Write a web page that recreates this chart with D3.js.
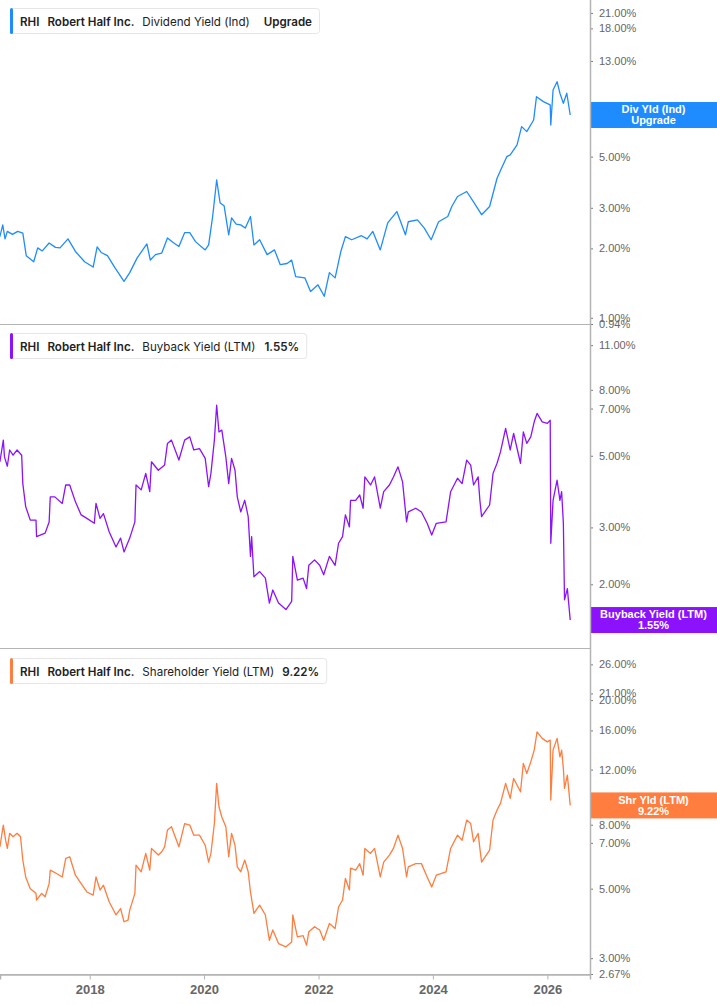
<!DOCTYPE html>
<html><head><meta charset="utf-8">
<script src="https://cdn.jsdelivr.net/npm/d3@7"></script>
<style>
html,body{margin:0;padding:0;background:#fff;}
svg{display:block;}
</style></head>
<body>
<svg id="chart" width="717" height="1005"></svg>
<script>
// ---------- DATA (decimal years, values in %) ----------
const divDates = [2016.43,2016.48,2016.52,2016.56,2016.65,2016.74,2016.83,2016.89,2017.02,2017.09,2017.17,2017.29,2017.40,2017.48,2017.62,2017.75,2017.91,2018.06,2018.13,2018.20,2018.31,2018.44,2018.60,2018.70,2018.83,2019.00,2019.06,2019.15,2019.26,2019.36,2019.46,2019.56,2019.66,2019.75,2019.85,2020.02,2020.08,2020.15,2020.22,2020.28,2020.35,2020.43,2020.48,2020.56,2020.64,2020.72,2020.81,2020.87,2020.97,2021.10,2021.23,2021.33,2021.45,2021.53,2021.60,2021.76,2021.86,2021.99,2022.10,2022.19,2022.29,2022.39,2022.47,2022.58,2022.75,2022.85,2022.95,2023.08,2023.21,2023.37,2023.52,2023.57,2023.73,2023.85,2023.97,2024.10,2024.26,2024.33,2024.43,2024.59,2024.72,2024.85,2024.99,2025.12,2025.20,2025.29,2025.35,2025.47,2025.55,2025.64,2025.76,2025.81,2025.93,2026.05,2026.06,2026.10,2026.17,2026.22,2026.28,2026.34,2026.40];
const divValues = [2.25,2.53,2.20,2.37,2.30,2.37,2.33,1.86,1.75,2.01,1.95,2.11,2.02,2.01,2.20,1.94,1.75,1.66,2.03,1.92,1.86,1.65,1.44,1.57,1.82,2.09,1.78,1.88,1.91,2.22,2.12,2.04,2.34,2.34,2.14,1.97,2.07,2.75,3.96,3.15,3.06,2.29,2.71,2.55,2.53,2.45,2.75,2.07,2.18,1.88,1.97,1.70,1.72,1.78,1.51,1.49,1.30,1.39,1.24,1.57,1.49,1.94,2.25,2.18,2.27,2.20,2.37,1.97,2.58,2.89,2.29,2.61,2.66,2.45,2.18,2.61,2.75,3.04,3.36,3.53,3.15,2.80,3.04,4.03,4.46,5.00,5.09,5.62,6.75,6.42,7.21,9.10,8.66,8.38,6.86,9.73,10.57,9.42,8.52,9.42,7.58];

const buyDates = [2016.43,2016.49,2016.51,2016.56,2016.60,2016.66,2016.73,2016.81,2016.83,2016.88,2016.96,2017.06,2017.07,2017.22,2017.29,2017.31,2017.39,2017.52,2017.58,2017.65,2017.75,2017.85,2017.95,2018.08,2018.11,2018.18,2018.24,2018.34,2018.46,2018.54,2018.60,2018.70,2018.79,2018.81,2018.90,2018.98,2019.05,2019.08,2019.20,2019.31,2019.36,2019.43,2019.56,2019.66,2019.75,2019.82,2019.92,2020.02,2020.08,2020.12,2020.18,2020.22,2020.26,2020.31,2020.38,2020.43,2020.48,2020.54,2020.58,2020.64,2020.71,2020.77,2020.81,2020.83,2020.87,2020.97,2021.07,2021.14,2021.20,2021.30,2021.43,2021.53,2021.55,2021.63,2021.73,2021.79,2021.83,2021.93,2022.02,2022.09,2022.19,2022.29,2022.35,2022.42,2022.47,2022.54,2022.56,2022.65,2022.72,2022.78,2022.81,2022.91,2022.98,2023.08,2023.14,2023.24,2023.31,2023.39,2023.47,2023.54,2023.57,2023.70,2023.80,2023.90,2023.98,2024.06,2024.23,2024.31,2024.43,2024.51,2024.59,2024.66,2024.71,2024.79,2024.82,2024.85,2024.99,2025.05,2025.12,2025.18,2025.27,2025.35,2025.41,2025.53,2025.58,2025.64,2025.71,2025.77,2025.82,2025.91,2026.00,2026.05,2026.06,2026.10,2026.17,2026.22,2026.25,2026.28,2026.30,2026.35,2026.40];
const buyValues = [4.79,5.59,4.96,4.64,5.21,5.02,5.21,5.02,4.10,3.48,3.16,3.16,2.81,2.88,3.12,3.73,3.73,3.56,4.06,4.06,3.60,3.28,3.20,3.09,3.56,3.20,3.31,2.91,2.61,2.78,2.52,2.78,3.12,4.06,3.92,4.41,3.87,4.79,4.51,4.68,5.46,5.59,4.85,5.59,5.72,5.21,5.26,4.91,4.01,4.41,5.59,7.17,5.93,6.00,4.96,4.10,4.91,4.51,3.73,3.35,3.64,3.24,2.44,2.81,2.11,2.19,2.09,1.75,1.92,1.75,1.67,1.77,2.44,2.06,2.09,1.94,2.29,2.38,2.29,2.14,2.44,2.29,2.68,2.81,3.28,3.01,3.64,3.64,3.78,3.44,4.30,4.06,4.30,3.44,3.87,4.06,4.30,4.62,4.15,3.12,3.35,3.44,3.35,3.09,2.84,3.09,3.12,3.87,4.26,4.10,4.85,4.68,4.06,4.30,3.64,3.24,3.52,4.41,4.74,5.14,6.08,5.21,5.86,4.74,5.93,5.46,5.72,6.37,6.76,6.37,6.30,6.44,2.68,3.64,4.20,3.64,3.87,3.09,1.79,1.94,1.55];

const shrDates = [2016.43,2016.49,2016.53,2016.56,2016.60,2016.66,2016.73,2016.79,2016.83,2016.88,2016.96,2017.06,2017.07,2017.16,2017.22,2017.29,2017.31,2017.42,2017.52,2017.58,2017.65,2017.75,2017.85,2017.95,2018.06,2018.11,2018.18,2018.24,2018.34,2018.46,2018.54,2018.60,2018.67,2018.70,2018.79,2018.81,2018.90,2018.98,2019.05,2019.08,2019.20,2019.26,2019.31,2019.36,2019.43,2019.56,2019.66,2019.75,2019.82,2019.92,2020.02,2020.08,2020.12,2020.18,2020.22,2020.26,2020.31,2020.38,2020.43,2020.48,2020.54,2020.58,2020.64,2020.71,2020.77,2020.81,2020.87,2020.97,2021.07,2021.14,2021.20,2021.30,2021.43,2021.53,2021.55,2021.63,2021.73,2021.79,2021.83,2021.93,2022.02,2022.09,2022.19,2022.29,2022.35,2022.42,2022.47,2022.54,2022.56,2022.65,2022.72,2022.78,2022.81,2022.91,2022.98,2023.08,2023.14,2023.24,2023.31,2023.39,2023.47,2023.54,2023.57,2023.70,2023.80,2023.90,2023.98,2024.06,2024.23,2024.31,2024.43,2024.51,2024.59,2024.66,2024.71,2024.79,2024.82,2024.85,2024.99,2025.05,2025.12,2025.18,2025.27,2025.35,2025.41,2025.53,2025.58,2025.64,2025.71,2025.77,2025.82,2025.91,2026.00,2026.05,2026.06,2026.10,2026.17,2026.22,2026.25,2026.28,2026.30,2026.35,2026.40];
const shrValues = [6.80,7.98,7.14,6.72,7.51,7.32,7.51,7.32,6.17,5.45,5.00,4.83,4.60,4.83,4.71,5.19,5.73,5.59,5.45,6.25,6.32,5.52,5.19,4.88,4.77,5.45,4.95,5.13,4.54,4.12,4.32,3.92,3.97,4.27,4.83,5.94,5.66,6.48,5.73,6.72,6.40,6.56,6.80,7.69,7.88,6.80,8.07,7.98,7.41,7.41,6.88,6.08,6.48,8.07,10.84,9.13,8.47,7.88,6.32,7.51,6.88,5.87,5.66,6.17,5.66,4.88,4.17,4.43,4.12,3.42,3.69,3.34,3.26,3.38,4.12,3.51,3.54,3.30,3.64,3.78,3.69,3.42,3.87,3.73,4.37,4.60,5.39,4.95,5.81,5.73,6.01,5.52,6.72,6.48,6.72,5.45,6.08,6.40,6.72,7.41,6.72,5.45,5.87,6.01,6.01,5.45,5.06,5.52,5.66,6.72,7.41,7.14,8.28,8.07,7.06,7.51,6.72,6.08,6.64,8.28,8.91,9.36,10.84,9.71,11.24,10.19,12.56,11.66,12.70,13.85,15.84,15.09,14.71,14.90,9.59,13.85,15.09,13.18,13.85,12.10,10.45,11.52,9.22];

const divTicks = [21, 18, 13, 8, 7, 5, 3, 2, 1, 0.94];
const buyTicks = [11, 8, 7, 5, 3, 2];
const shrTicks = [26, 21, 20, 16, 12, 8, 7, 5, 3, 2.67];
const yearTicks = [2018, 2020, 2022, 2024, 2026];

// ---------- helpers ----------
function dy(y){ const yr=Math.floor(y); const s=Date.UTC(yr,0,1), e=Date.UTC(yr+1,0,1); return new Date(s+(y-yr)*(e-s)); }
const zip = (ds, vs) => ds.map((d,i)=>({date:dy(d), value:vs[i]}));

const svg = d3.select("#chart");
const plotRight = 590;
const x = d3.scaleUtc().domain([dy(2016.432), dy(2026.746)]).range([0, plotRight]);

const AXIS_GREY = "#b4b4b4";
const LABEL_GREY = "#666";

const panels = [
  {top:0, bottom:324, domain:[0.94, 23.9], ticks:divTicks, data:zip(divDates, divValues), color:"#1e8cff",
   legend:[["RHI",true,0],["Robert Half Inc.",true,8],["Dividend Yield (Ind)",false,8],["Upgrade",true,14]],
   tag:["Div Yld (Ind)","Upgrade"], tagColor:"#1e8cff"},
  {top:325, bottom:648, domain:[1.27, 12.7], ticks:buyTicks, data:zip(buyDates, buyValues), color:"#8c12fb",
   legend:[["RHI",true,0],["Robert Half Inc.",true,8],["Buyback Yield (LTM)",false,8],["1.55%",true,9]],
   tag:["Buyback Yield (LTM)","1.55%"], tagColor:"#8c12fb"},
  {top:650, bottom:974, domain:[2.67, 28.9], ticks:shrTicks, data:zip(shrDates, shrValues), color:"#ff7d3f",
   legend:[["RHI",true,0],["Robert Half Inc.",true,8],["Shareholder Yield (LTM)",false,8],["9.22%",true,8]],
   tag:["Shr Yld (LTM)","9.22%"], tagColor:"#ff7d3f"}
];

panels.forEach(p => {
  const y = d3.scaleLog().domain(p.domain).range([p.bottom, p.top]);
  const g = svg.append("g");

  g.append("line").attr("x1",0).attr("x2",plotRight).attr("y1",p.bottom+0.5).attr("y2",p.bottom+0.5)
    .attr("stroke",AXIS_GREY).attr("stroke-width",1);

  g.append("path").datum(p.data)
    .attr("fill","none").attr("stroke",p.color).attr("stroke-width",1.3).attr("stroke-linejoin","round")
    .attr("d", d3.line().x(d=>x(d.date)).y(d=>y(d.value)));

  const ax = d3.axisRight(y).tickValues(p.ticks).tickSize(3).tickPadding(6)
    .tickFormat(d => d3.format(".2f")(d) + "%");
  const axg = g.append("g").attr("transform",`translate(${plotRight},0)`).call(ax);
  axg.select(".domain").remove();
  axg.selectAll(".tick line").attr("stroke","#777");
  axg.selectAll(".tick text").attr("fill",LABEL_GREY).attr("font-family","'Liberation Sans', Arial, sans-serif").attr("font-size","11px");

  // legend box
  const lg = g.append("g").attr("transform",`translate(10,${p.top+8})`);
  const box = lg.append("rect").attr("x",0.5).attr("y",0.5).attr("height",25).attr("rx",3)
    .attr("fill","#fff").attr("stroke","#e6e6e6");
  lg.append("rect").attr("x",0).attr("y",0).attr("width",3).attr("height",26).attr("rx",1.5).attr("fill",p.color);
  let cx = 10;
  p.legend.forEach((t,i)=>{
    cx += t[2];
    const tx = lg.append("text").attr("x",cx).attr("y",17.5).text(t[0])
      .attr("font-family","Inter, 'Noto Sans', sans-serif").attr("font-size","11.6px")
      .attr("font-weight", t[1] ? 600 : 400).attr("fill","#222");
    cx += tx.node().getComputedTextLength();
  });
  box.attr("width", cx + 7);

  // value tag
  const last = p.data[p.data.length-1];
  const ty = y(last.value);
  const tg = g.append("g");
  tg.append("rect").attr("x",plotRight).attr("y",ty-13).attr("width",717-plotRight).attr("height",26).attr("fill",p.tagColor);
  p.tag.forEach((t,i)=>{
    tg.append("text").attr("x",(plotRight+717)/2).attr("y",ty-5.5+i*11).attr("dy","0.35em")
      .attr("text-anchor","middle").attr("fill","#fff").attr("font-weight","bold")
      .attr("font-family","'Liberation Sans', Arial, sans-serif").attr("font-size","11px").text(t);
  });
});

svg.append("line").attr("x1",plotRight+0.5).attr("x2",plotRight+0.5).attr("y1",0).attr("y2",975)
  .attr("stroke",AXIS_GREY).attr("stroke-width",1.5);

const xa = d3.axisBottom(x).tickValues(yearTicks.map(yy=>dy(yy))).tickSize(5).tickPadding(5)
  .tickFormat(d3.utcFormat("%Y"));
const xg = svg.append("g").attr("transform","translate(0,974.5)").call(xa);
xg.select(".domain").attr("stroke",AXIS_GREY).attr("stroke-width",1.5);
xg.selectAll(".tick line").attr("stroke",AXIS_GREY);
xg.selectAll(".tick text").attr("fill",LABEL_GREY).attr("font-weight","bold")
  .attr("font-family","'Liberation Sans', Arial, sans-serif").attr("font-size","13px");
</script>
</body></html>
